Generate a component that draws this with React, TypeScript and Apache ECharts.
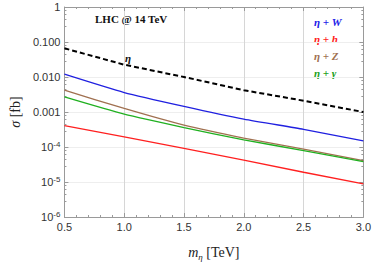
import React, { useEffect, useRef } from "react";
import * as echarts from "echarts";

const masses = [0.5, 1.0, 1.5, 2.0, 2.5, 3.0];
const etaOnly = [0.066, 0.0225, 0.0100, 0.0042, 0.0021, 0.0010];
const etaW = [0.012, 0.0036, 0.00145, 0.00063, 0.00032, 0.00015];
const etaH = [0.00041, 0.000195, 0.000091, 0.000042, 0.000019, 0.0000089];
const etaZ = [0.0042, 0.00126, 0.00042, 0.00018, 0.000087, 0.000041];
const etaGamma = [0.0027, 0.00087, 0.00036, 0.00016, 0.000079, 0.000038];
const xTicks = ["0.5", "1.0", "1.5", "2.0", "2.5", "3.0"];

const serif = "Liberation Serif";

function pairs(ys: number[]) {
  return masses.map((m, i) => [m, ys[i]]);
}

function yLabel(v: number) {
  const e = Math.round(Math.log10(v));
  if (e === 0) return "1";
  if (e === -1) return "0.100";
  if (e === -2) return "0.010";
  if (e === -3) return "0.001";
  return "10{sup|" + e + "}";
}

export default function App() {
  const ref = useRef<HTMLDivElement>(null);
  useEffect(() => {
    const chart = echarts.init(ref.current!, undefined, { renderer: "svg" });
    const axisCol = "#9a9a9a";
    const labelCol = "#333";
    chart.setOption({
      animation: false,
      backgroundColor: "#fff",
      grid: { left: 52, right: 9, top: 7, bottom: 39 },
      xAxis: [
        {
          type: "value",
          min: 0.5,
          max: 3.0,
          interval: 0.5,
          axisLine: { lineStyle: { color: axisCol, width: 1 } },
          axisTick: { inside: true, length: 4, lineStyle: { color: axisCol } },
          minorTick: { show: true, splitNumber: 5, length: 2, lineStyle: { color: axisCol } },
          splitLine: { show: true, lineStyle: { color: "#d6d6d6", width: 1 } },
          axisLabel: {
            color: labelCol,
            fontSize: 11,
            fontFamily: "Liberation Sans",
            margin: 4,
            formatter: (v: number) => xTicks[Math.round((v - 0.5) / 0.5)] ?? "",
          },
          name: "{i|m}{sub|η} [TeV]",
          nameLocation: "middle",
          nameGap: 27,
          nameTextStyle: {
            rich: {
              i: { fontFamily: serif, fontStyle: "italic", fontSize: 14, color: "#222" },
              sub: { fontFamily: serif, fontStyle: "italic", fontSize: 9, color: "#222", padding: [8, 0, 0, 0] },
            },
            fontFamily: serif,
            fontSize: 14,
            color: "#222",
          },
        },
        {
          type: "value",
          position: "top",
          min: 0.5,
          max: 3.0,
          interval: 0.5,
          axisLine: { show: true, lineStyle: { color: axisCol } },
          axisTick: { inside: true, length: 4, lineStyle: { color: axisCol } },
          minorTick: { show: true, splitNumber: 5, length: 2, lineStyle: { color: axisCol } },
          splitLine: { show: false },
          axisLabel: { show: false },
        },
      ],
      yAxis: [
        {
          type: "log",
          logBase: 10,
          min: 1e-6,
          max: 1,
          axisLine: { show: true, lineStyle: { color: axisCol } },
          axisTick: { show: true, inside: true, length: 4, lineStyle: { color: axisCol } },
          minorTick: { show: true, splitNumber: 5, length: 2, lineStyle: { color: axisCol } },
          splitLine: { show: true, lineStyle: { color: "#eeeeee", width: 1 } },
          axisLabel: {
            color: labelCol,
            fontSize: 11,
            fontFamily: "Liberation Sans",
            margin: 4,
            formatter: yLabel,
            rich: {
              sup: { fontSize: 8, color: labelCol, fontFamily: "Liberation Sans", verticalAlign: "top", padding: [0, 0, 6, 0] },
            },
          },
          name: "{s|σ} [fb]",
          nameLocation: "middle",
          nameGap: 38,
          nameRotate: 90,
          nameTextStyle: {
            fontFamily: serif,
            fontSize: 14,
            color: "#222",
            rich: {
              s: { fontFamily: serif, fontStyle: "italic", fontSize: 14, color: "#222" },
            },
          },
        },
        {
          type: "log",
          logBase: 10,
          min: 1e-6,
          max: 1,
          position: "right",
          axisLine: { show: true, lineStyle: { color: axisCol } },
          axisTick: { show: true, inside: true, length: 4, lineStyle: { color: axisCol } },
          minorTick: { show: true, splitNumber: 5, length: 2, lineStyle: { color: axisCol } },
          splitLine: { show: false },
          axisLabel: { show: false },
        },
      ],
      graphic: [
        {
          type: "text",
          left: 95,
          top: 13,
          style: { text: "LHC @ 14 TeV", font: `bold 11px '${serif}'`, fill: "#111" },
        },
        {
          type: "text",
          left: 125,
          top: 52,
          style: { text: "η", font: `italic bold 11px '${serif}'`, fill: "#111" },
        },
        {
          type: "text",
          left: 314,
          top: 16,
          style: { text: "η + W", font: `italic bold 11px '${serif}'`, fill: "#2020e8" },
        },
        {
          type: "text",
          left: 314,
          top: 33,
          style: { text: "η + h", font: `italic bold 11px '${serif}'`, fill: "#ff2020" },
        },
        {
          type: "text",
          left: 314,
          top: 50,
          style: { text: "η + Z", font: `italic bold 11px '${serif}'`, fill: "#a07050" },
        },
        {
          type: "text",
          left: 314,
          top: 67,
          style: { text: "η + γ", font: `italic bold 11px '${serif}'`, fill: "#20a020" },
        },
      ],
      series: [
        {
          name: "η",
          type: "line",
          data: pairs(etaOnly),
          showSymbol: false,
          lineStyle: { color: "#000", width: 2, type: [5, 3] },
        },
        {
          name: "η + W",
          type: "line",
          data: pairs(etaW),
          showSymbol: false,
          smooth: 0.2,
          lineStyle: { color: "#2020e0", width: 1.3 },
        },
        {
          name: "η + Z",
          type: "line",
          data: pairs(etaZ),
          showSymbol: false,
          smooth: 0.2,
          lineStyle: { color: "#a07050", width: 1.3 },
        },
        {
          name: "η + γ",
          type: "line",
          data: pairs(etaGamma),
          showSymbol: false,
          smooth: 0.2,
          lineStyle: { color: "#20b020", width: 1.3 },
        },
        {
          name: "η + h",
          type: "line",
          data: pairs(etaH),
          showSymbol: false,
          lineStyle: { color: "#ff2020", width: 1.3 },
        },
      ],
    });
    return () => chart.dispose();
  }, []);
  return <div ref={ref} style={{ width: 374, height: 266, position: "absolute", left: 0, top: 0 }} />;
}
